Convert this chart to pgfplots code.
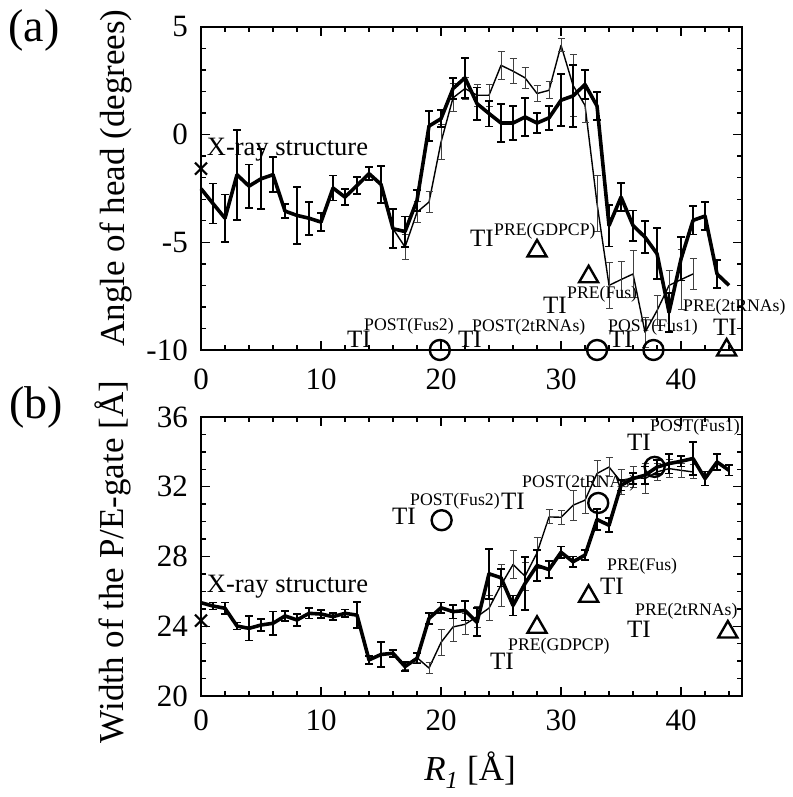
\documentclass[border=0pt]{standalone}
\usepackage{pgfplots}
\pgfplotsset{compat=1.18}
\usepackage{pgfplotstable}
\usepackage{fontspec}
\setmainfont{Liberation Serif}
\newcommand\fs[1]{\fontsize{#1bp}{#1bp}\selectfont}

\pgfplotstableread{
x y e
0 -2.51 0
1 -3.20 0.93
2 -3.88 1.1
3 -1.86 2.09
4 -2.39 1.0
5 -2.05 1.4
6 -1.86 0.82
7 -3.55 0.33
8 -3.75 1.32
9 -3.88 0.77
10 -4.06 0.41
11 -2.48 0.58
12 -2.90 0.36
13 -2.36 0.40
14 -1.81 0.30
15 -2.31 0.85
16 -4.37 0.91
17 -4.50 0.7
18 -3.05 0.48
19 0.40 0.7
20 0.74 0.4
21 2.14 0.5
22 2.64 0.93
23 1.44 0.75
24 0.98 0.6
25 0.54 0.87
26 0.54 0.78
27 0.82 0.87
28 0.54 0.48
29 0.78 0.56
30 1.60 1.2
31 1.80 1.43
32 2.33 0.66
33 1.33 0.65
34 -4.22 0.97
35 -2.90 0.64
36 -4.22 0.70
37 -4.76 0.74
38 -5.53 1.18
39 -8.25 0.9
40 -5.77 1.0
41 -3.98 0.66
42 -3.78 0.66
43 -6.47 0.64
44 -7.00 0
}\thickA

\pgfplotstableread{
x y e
16 -4.37 0.9
17 -5.22 0.6
18 -3.60 0.5
19 -3.13 0.5
20 -0.35 0.8
21 1.71 0.65
22 2.14 0.5
23 1.83 0.5
24 1.83 0.5
25 3.22 0.64
26 2.95 0.57
27 2.64 0.49
28 1.91 0.39
29 2.06 0.4
30 4.15 0.3
31 2.29 1.43
32 1.36 0.8
33 -3.20 1.3
34 -7.00 1.05
35 -6.73 0.85
36 -6.47 1.1
37 -9.18 0.7
38 -8.17 0.7
39 -7.00 0.7
40 -6.73 1.4
41 -6.47 0.7
}\thinA

\pgfplotstableread{
x y e
0 25.35 0
1 25.16 0.2
2 25.03 0.33
3 24.01 0.2
4 23.88 0.7
5 24.07 0.35
6 24.17 0.68
7 24.59 0.28
8 24.36 0.34
9 24.74 0.29
10 24.70 0.24
11 24.55 0.19
12 24.74 0.22
13 24.64 0.76
14 22.07 0.24
15 22.38 0.7
16 22.45 0.2
17 21.69 0.25
18 22.16 0.3
19 24.45 0.3
20 25.06 0.3
21 24.84 0.4
22 24.90 0.57
23 24.23 0.8
24 27.01 1.43
25 26.78 0.5
26 25.19 0.57
27 26.45 1.5
28 27.48 0.9
29 27.25 0.48
30 28.24 0.33
31 27.70 0.3
32 28.08 0.3
33 30.12 0.6
34 29.79 0.4
35 32.08 0.3
36 32.47 0.3
37 32.66 0.5
38 33.13 0.4
39 33.33 0.57
40 33.46 0.3
41 33.62 0.95
42 32.47 0.4
43 33.42 0.48
44 32.94 0.3
}\thickB

\pgfplotstableread{
x y e
16 22.45 0.2
17 21.75 0.25
18 22.20 0.3
19 21.60 0.3
20 23.07 0.76
21 23.96 0.81
22 24.11 0.6
23 24.55 0.6
24 25.04 0.7
25 26.36 1.2
26 27.54 0.8
27 26.87 0.8
28 28.21 0.9
29 30.27 0.4
30 30.25 0.4
31 30.94 0.86
32 31.23 0.76
33 32.76 0.76
34 33.13 0.57
35 32.28 0.7
36 32.56 0.6
37 32.47 0.86
38 32.85 0.5
39 33.04 0.5
40 32.94 0.4
41 32.85 0.4
}\thinB

\pgfplotsset{
  common/.style={
    scale only axis, width=541bp, clip=false,
    xmin=0, xmax=45.08,
    xtick={0,10,20,30,40}, xticklabels={0,10,20,30,40},
    minor xtick={2,4,6,8,12,14,16,18,22,24,26,28,32,34,36,38,42,44},
    tick align=inside, major tick length=9bp, minor tick length=5bp,
    every tick/.append style={line width=1.4bp, black},
    axis line style={line width=2.2bp},
    yticklabel style={font=\fs{31}, inner sep=0pt, anchor=east, xshift=-13bp},
  },
  thickline/.style={black, line width=3.6bp, line join=round},
  thinline/.style={black, line width=1.4bp, line join=round},
  thickerr/.style={draw=none, forget plot, error bars/.cd, y dir=both, y explicit,
     error bar style={line width=1.8bp, black},
     error mark options={rotate=90, mark size=4bp, line width=1.8bp, black}},
  thinerr/.style={draw=none, forget plot, error bars/.cd, y dir=both, y explicit,
     error bar style={line width=1bp, black!75},
     error mark options={rotate=90, mark size=3.5bp, line width=1bp, black!75}},
}

\begin{document}
\begin{tikzpicture}
\useasboundingbox (0,0) rectangle (793bp,797bp);

% ---------- panel (a)
\begin{axis}[common, at={(201bp,447bp)}, anchor=south west, height=323bp,
  ymin=-10, ymax=5,
  ytick={-10,-5,0,5}, yticklabels={-10,-5,0,5},
  minor ytick={-9,-8,-7,-6,-4,-3,-2,-1,1,2,3,4},
  xticklabel style={font=\fs{31}, inner sep=0pt, anchor=north, yshift=-19bp},
]
\addplot[thinline] table[x=x,y=y] {\thinA};
\addplot[thinerr] table[x=x,y=y,y error=e] {\thinA};
\addplot[thickline] table[x=x,y=y] {\thickA};
\addplot[skip coords between index={0}{1}, skip coords between index={44}{45}, thickerr] table[x=x,y=y,y error=e] {\thickA};
\addplot[only marks, mark=x, mark size=8.5bp, mark options={line width=2.2bp, black}] coordinates {(0,-1.58)};
\addplot[only marks, mark=o, mark size=10bp, mark options={line width=2.4bp, black}] coordinates {(19.9,-10) (33,-10) (37.7,-10)};
\addplot[only marks, mark=triangle, mark size=11bp, mark options={line width=2.4bp, black}] coordinates {(28,-5.40) (32.3,-6.6) (43.8,-10)};
\end{axis}

% ---------- panel (b)
\begin{axis}[common, at={(201bp,101bp)}, anchor=south west, height=279bp,
  ymin=20, ymax=36,
  ytick={20,24,28,32,36}, yticklabels={20,24,28,32,36},
  minor ytick={21,22,23,25,26,27,29,30,31,33,34,35},
  xticklabel style={font=\fs{31}, inner sep=0pt, anchor=north, yshift=-14bp},
]
\addplot[thinline] table[x=x,y=y] {\thinB};
\addplot[thinerr] table[x=x,y=y,y error=e] {\thinB};
\addplot[thickline] table[x=x,y=y] {\thickB};
\addplot[skip coords between index={0}{1}, thickerr] table[x=x,y=y,y error=e] {\thickB};
\addplot[only marks, mark=x, mark size=8.5bp, mark options={line width=2.2bp, black}] coordinates {(0,24.32)};
\addplot[only marks, mark=o, mark size=10bp, mark options={line width=2.4bp, black}] coordinates {(20.05,30.08) (33.1,31.07) (37.8,33.14)};
\addplot[only marks, mark=triangle, mark size=11bp, mark options={line width=2.4bp, black}] coordinates {(28,23.94) (32.3,25.72) (43.9,23.67)};
\end{axis}

% ---------- outer labels
\node[font=\fs{46}, inner sep=0] at (34bp,767bp) {(a)};
\node[font=\fs{46}, inner sep=0] at (36bp,390bp) {(b)};
\node[rotate=90, font=\fs{35}, inner sep=0] at (116bp,619bp) {Angle of head (degrees)};
\node[rotate=90, font=\fs{35}, inner sep=0] at (113bp,235bp) {Width of the P/E-gate [Å]};
\node[font=\fs{35}, inner sep=0] at (470bp,27bp) {\textit{R\textsubscript{1}} [Å]};

% ---------- in-plot labels, panel (a)
\begin{scope}[every node/.style={inner sep=0, anchor=base west}]
\node[font=\fs{26.5}] at (206.7bp,641bp) {X-ray structure};
\node[font=\fs{25}] at (470bp,550bp) {TI};
\node[font=\fs{17.7}] at (494bp,561bp) {PRE(GDPCP)};
\node[font=\fs{25}] at (543bp,483bp) {TI};
\node[font=\fs{17.7}] at (567bp,498bp) {PRE(Fus)};
\node[font=\fs{17.7}] at (683bp,485bp) {PRE(2tRNAs)};
\node[font=\fs{25}] at (713bp,461bp) {TI};
\node[font=\fs{25}] at (347bp,449bp) {TI};
\node[font=\fs{17.7}] at (364bp,466bp) {POST(Fus2)};
\node[font=\fs{25}] at (458bp,449bp) {TI};
\node[font=\fs{17.7}] at (472bp,465bp) {POST(2tRNAs)};
\node[font=\fs{17.7}] at (608bp,465bp) {POST(Fus1)};
\node[font=\fs{25}] at (609bp,449bp) {TI};
% panel (b)
\node[font=\fs{26.5}] at (206.7bp,204bp) {X-ray structure};
\node[font=\fs{25}] at (392bp,272bp) {TI};
\node[font=\fs{17.7}] at (410bp,291bp) {POST(Fus2)};
\node[font=\fs{25}] at (501bp,287bp) {TI};
\node[font=\fs{17.7}] at (522bp,309bp) {POST(2tRNAs)};
\node[font=\fs{25}] at (627bp,346bp) {TI};
\node[font=\fs{17.7}] at (650bp,365bp) {POST(Fus1)};
\node[font=\fs{17.7}] at (508bp,146bp) {PRE(GDPCP)};
\node[font=\fs{25}] at (490bp,127bp) {TI};
\node[font=\fs{17.7}] at (607bp,226bp) {PRE(Fus)};
\node[font=\fs{25}] at (600bp,202bp) {TI};
\node[font=\fs{17.7}] at (635bp,181bp) {PRE(2tRNAs)};
\node[font=\fs{25}] at (627bp,159bp) {TI};
\end{scope}
\end{tikzpicture}
\end{document}
